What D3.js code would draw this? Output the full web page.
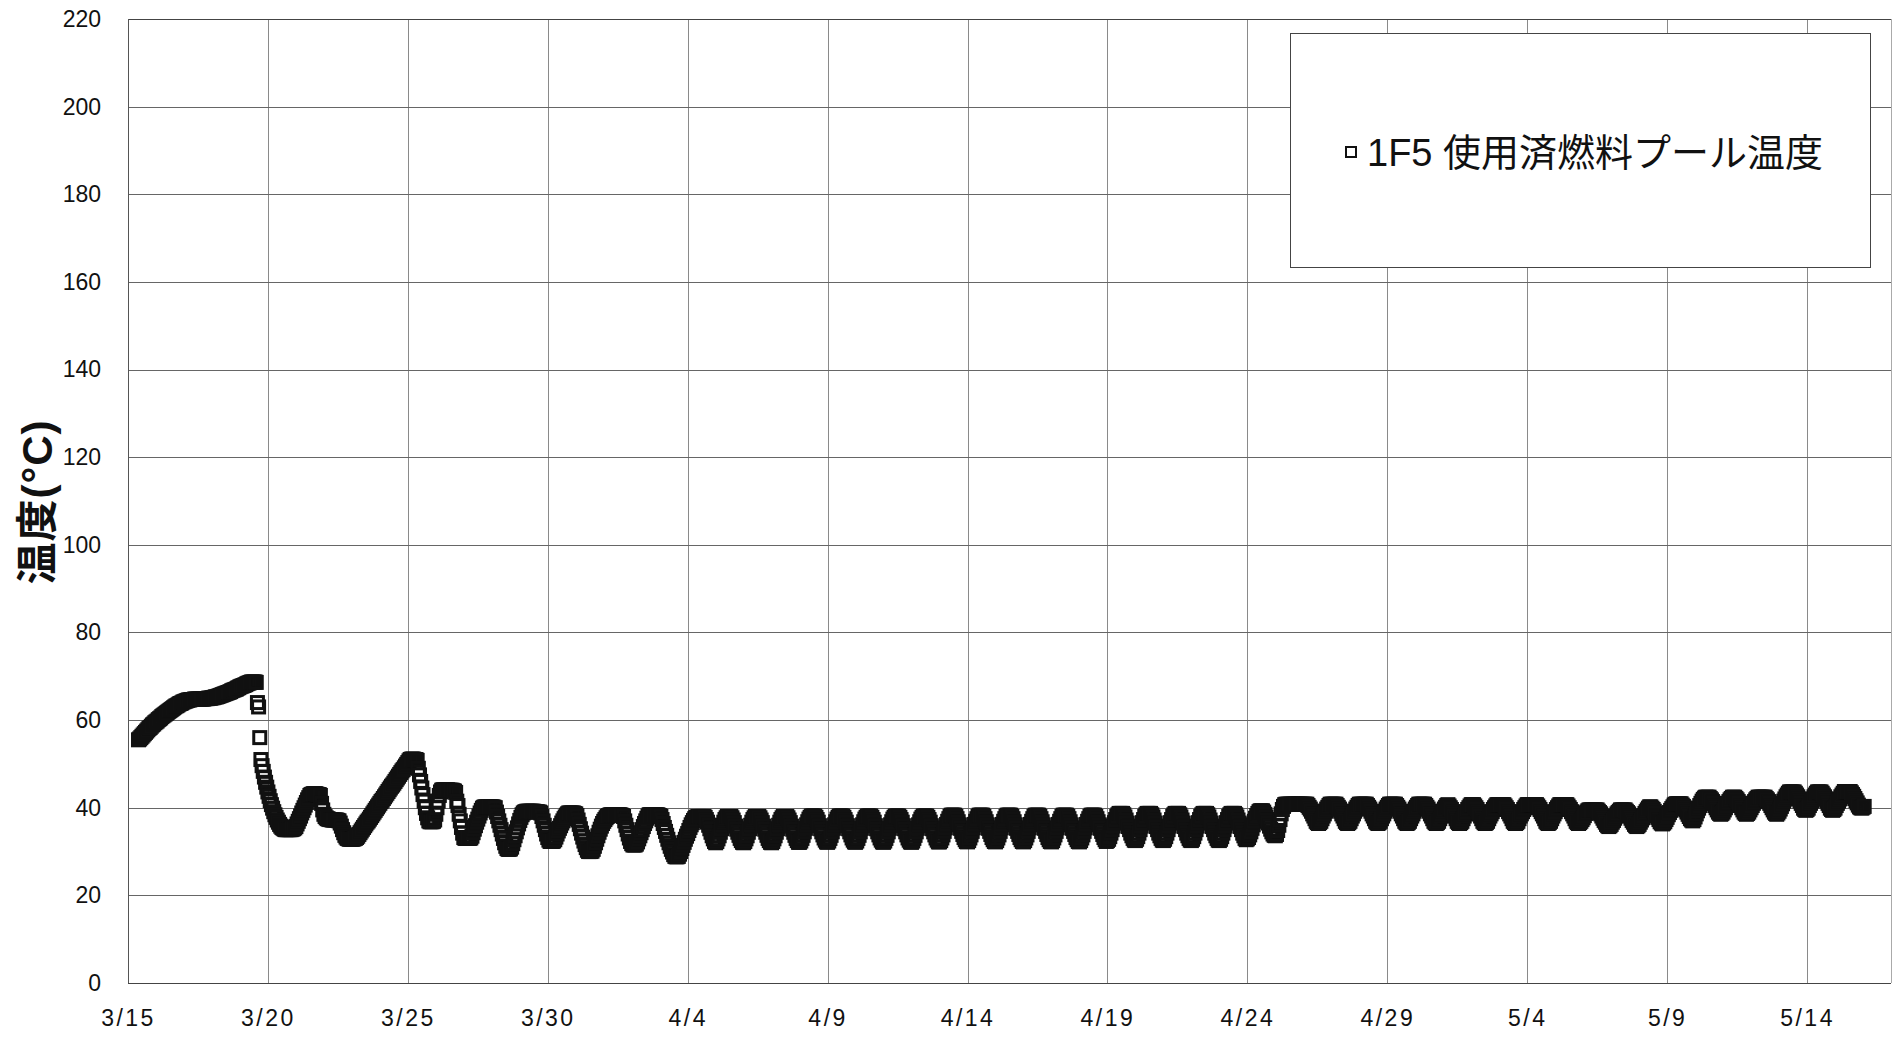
<!DOCTYPE html>
<html><head><meta charset="utf-8">
<script src="https://cdn.jsdelivr.net/npm/d3@7"></script>
<style>
html,body{margin:0;padding:0;background:#fff;}
svg{display:block;}
text{font-family:"Liberation Sans","Noto Sans CJK JP",sans-serif;fill:#111;}
</style></head><body>
<svg id="chart" width="1903" height="1037"></svg>
<script>
// ---------------- data ----------------
const seriesName = "1F5 使用済燃料プール温度";
const yAxisTitle = "温度(°C)";
const yTicks = [0, 20, 40, 60, 80, 100, 120, 140, 160, 180, 200, 220];
const xTickDates = ["2011-03-15","2011-03-20","2011-03-25","2011-03-30","2011-04-04","2011-04-09",
  "2011-04-14","2011-04-19","2011-04-24","2011-04-29","2011-05-04","2011-05-09","2011-05-14"];
const xTickLabels = ["3/15","3/20","3/25","3/30","4/4","4/9","4/14","4/19","4/24","4/29","5/4","5/9","5/14"];
const xDomain = ["2011-03-15T00:00Z", "2011-05-17T00:00Z"];
const yDomain = [0, 220];
const firstSample = "2011-03-15T09:00Z";   // hourly readings from here
const sampleHours = 1;
const temps = [
  // 3/15 (09h-23h)
  55.5,55.7,56.0,56.3,56.6,56.9,57.2,57.5,57.8,58.1,58.3,58.6,58.9,59.1,59.4,
  // 3/16
  59.6,59.8,60.1,60.3,60.5,60.8,61.0,61.2,61.4,61.6,61.8,62.0,62.2,62.4,62.6,62.8,63.0,63.2,63.3,63.5,63.7,63.8,63.9,64.1,
  // 3/17
  64.2,64.3,64.4,64.5,64.6,64.6,64.7,64.7,64.7,64.8,64.8,64.8,64.8,64.8,64.8,64.8,64.8,64.8,64.9,64.9,64.9,65.0,65.0,65.0,
  // 3/18
  65.1,65.1,65.2,65.3,65.3,65.4,65.5,65.6,65.7,65.8,65.9,66.0,66.1,66.2,66.3,66.4,66.5,66.7,66.8,66.9,67.0,67.1,67.3,67.4,
  // 3/19
  67.6,67.7,67.8,67.9,68.0,68.1,68.3,68.4,68.5,68.6,68.7,68.7,68.7,68.7,68.6,64.0,63.0,56.0,51.0,49.6,48.3,47.0,45.8,44.7,
  // 3/20
  43.6,42.6,41.6,40.7,39.9,39.1,38.4,37.8,37.2,36.7,36.2,35.8,35.5,35.3,35.1,35.0,35.0,35.0,35.0,35.0,35.0,35.1,35.2,35.4,
  // 3/21
  35.7,36.3,36.9,37.5,38.1,38.8,39.4,40.0,40.6,41.2,41.8,42.3,42.8,43.0,43.1,43.2,43.2,43.2,43.1,43.0,43.0,42.8,41.0,39.5,
  // 3/22
  38.5,38.0,37.7,37.5,37.4,37.3,37.3,37.2,37.2,37.2,37.2,37.2,37.1,37.0,36.5,35.8,35.0,34.3,33.7,33.3,33.0,32.9,32.8,32.8,
  // 3/23
  32.8,32.8,32.9,33.0,33.2,33.5,33.9,34.3,34.7,35.1,35.5,35.9,36.3,36.7,37.0,37.4,37.8,38.2,38.6,39.0,39.4,39.8,40.2,40.6,
  // 3/24
  41.0,41.4,41.7,42.1,42.5,42.9,43.3,43.7,44.1,44.5,44.9,45.2,45.6,46.0,46.4,46.8,47.2,47.6,48.0,48.4,48.7,49.1,49.5,49.9,
  // 3/25
  50.3,50.7,51.0,51.1,51.1,51.1,51.0,51.0,50.8,49.0,47.5,46.0,44.5,43.0,41.5,40.0,38.7,37.7,37.0,36.8,36.8,36.8,36.9,37.2,
  // 3/26
  38.5,40.0,41.5,42.8,43.6,44.0,44.1,44.1,44.1,44.1,44.1,44.0,44.0,44.0,44.0,43.9,43.8,43.5,41.5,40.5,38.5,37.0,35.5,34.2,
  // 3/27
  33.2,33.0,33.0,33.0,33.0,33.0,33.1,33.5,34.3,35.1,35.9,36.7,37.4,38.1,38.8,39.4,39.9,40.1,40.2,40.2,40.2,40.2,40.2,40.2,
  // 3/28
  40.2,40.2,40.1,40.0,39.0,38.0,37.0,36.0,35.0,34.0,33.0,32.0,31.2,30.7,30.5,30.5,30.6,31.0,31.8,32.7,33.6,34.5,35.4,36.3,
  // 3/29
  37.1,37.8,38.4,38.8,39.0,39.1,39.2,39.2,39.2,39.2,39.2,39.2,39.2,39.1,39.1,39.1,39.0,39.0,38.8,38.0,37.0,36.0,35.0,34.0,
  // 3/30
  33.2,32.6,32.3,32.3,32.3,32.4,32.7,33.3,34.0,34.7,35.3,35.9,36.5,37.0,37.5,37.9,38.3,38.6,38.8,38.8,38.8,38.8,38.8,38.7,
  // 3/31
  38.6,38.2,37.2,36.2,35.2,34.2,33.3,32.4,31.6,30.9,30.3,30.0,30.0,30.0,30.1,30.5,31.2,32.0,32.8,33.6,34.4,35.1,35.8,36.4,
  // 4/1
  36.9,37.3,37.7,38.0,38.2,38.3,38.4,38.4,38.4,38.4,38.4,38.4,38.4,38.4,38.4,38.3,38.2,38.0,37.0,36.0,35.0,34.0,33.1,32.3,
  // 4/2
  31.8,31.5,31.5,31.5,31.7,32.2,32.9,33.6,34.3,35.0,35.7,36.4,37.0,37.6,38.1,38.4,38.4,38.4,38.4,38.4,38.4,38.4,38.4,38.3,
  // 4/3
  38.2,38.0,37.3,36.4,35.5,34.6,33.7,32.8,32.0,31.2,30.5,29.9,29.3,28.9,28.8,28.8,28.9,29.4,30.0,30.7,31.4,32.1,32.8,33.5,
  // 4/4
  34.1,34.8,35.5,36.1,36.6,37.1,37.5,37.8,37.9,38.0,38.0,38.0,38.0,38.0,38.0,37.8,37.3,36.7,36.0,35.2,34.4,33.6,32.9,32.3,
  // 4/5
  32.0,32.3,32.9,33.6,34.4,35.2,36.0,36.7,37.3,37.7,38.0,38.0,38.0,38.0,37.7,37.2,36.6,35.8,35.1,34.4,33.7,33.0,32.5,32.1,
  // 4/6
  32.0,32.3,32.9,33.6,34.4,35.2,36.0,36.7,37.3,37.7,38.0,38.0,38.0,38.0,37.7,37.2,36.6,35.8,35.1,34.4,33.7,33.0,32.5,32.1,
  // 4/7
  32.0,32.3,32.9,33.6,34.4,35.2,36.0,36.7,37.3,37.7,38.0,38.0,38.0,38.0,37.7,37.2,36.6,35.8,35.1,34.4,33.7,33.0,32.5,32.1,
  // 4/8
  32.1,32.4,33.0,33.7,34.5,35.3,36.1,36.8,37.4,37.8,38.1,38.1,38.1,38.1,37.8,37.3,36.7,35.9,35.2,34.5,33.8,33.1,32.6,32.2,
  // 4/9
  32.1,32.4,33.0,33.7,34.5,35.3,36.1,36.8,37.4,37.8,38.1,38.1,38.1,38.1,37.8,37.3,36.7,35.9,35.2,34.5,33.8,33.1,32.6,32.2,
  // 4/10
  32.1,32.4,33.0,33.7,34.5,35.3,36.1,36.8,37.4,37.8,38.1,38.1,38.1,38.1,37.8,37.3,36.7,35.9,35.2,34.5,33.8,33.1,32.6,32.2,
  // 4/11
  32.1,32.4,33.0,33.7,34.5,35.3,36.1,36.8,37.4,37.8,38.1,38.1,38.1,38.1,37.8,37.3,36.7,35.9,35.2,34.5,33.8,33.1,32.6,32.2,
  // 4/12
  32.1,32.4,33.0,33.7,34.5,35.3,36.1,36.8,37.4,37.8,38.1,38.1,38.1,38.1,37.8,37.3,36.7,35.9,35.2,34.5,33.8,33.1,32.6,32.2,
  // 4/13
  32.2,32.5,33.1,33.8,34.6,35.4,36.2,36.9,37.5,38.0,38.3,38.3,38.3,38.3,38.0,37.5,36.8,36.1,35.3,34.6,33.9,33.2,32.7,32.3,
  // 4/14
  32.2,32.5,33.1,33.8,34.6,35.4,36.2,36.9,37.5,38.0,38.3,38.3,38.3,38.3,38.0,37.5,36.8,36.1,35.3,34.6,33.9,33.2,32.7,32.3,
  // 4/15
  32.2,32.5,33.1,33.8,34.6,35.4,36.2,36.9,37.5,38.0,38.3,38.3,38.3,38.3,38.0,37.5,36.8,36.1,35.3,34.6,33.9,33.2,32.7,32.3,
  // 4/16
  32.2,32.5,33.1,33.8,34.6,35.4,36.2,36.9,37.5,38.0,38.3,38.3,38.3,38.3,38.0,37.5,36.8,36.1,35.3,34.6,33.9,33.2,32.7,32.3,
  // 4/17
  32.2,32.5,33.1,33.8,34.6,35.4,36.2,36.9,37.5,38.0,38.3,38.3,38.3,38.3,38.0,37.5,36.8,36.1,35.3,34.6,33.9,33.2,32.7,32.3,
  // 4/18
  32.2,32.5,33.1,33.8,34.6,35.4,36.2,36.9,37.5,38.0,38.3,38.3,38.3,38.3,38.0,37.5,36.8,36.1,35.3,34.6,33.9,33.2,32.7,32.3,
  // 4/19
  32.5,32.8,33.4,34.2,35.0,35.8,36.6,37.3,38.0,38.4,38.7,38.7,38.7,38.7,38.4,37.9,37.2,36.5,35.7,35.0,34.2,33.6,33.0,32.6,
  // 4/20
  32.5,32.8,33.4,34.2,35.0,35.8,36.6,37.3,38.0,38.4,38.7,38.7,38.7,38.7,38.4,37.9,37.2,36.5,35.7,35.0,34.2,33.6,33.0,32.6,
  // 4/21
  32.5,32.8,33.4,34.2,35.0,35.8,36.6,37.3,38.0,38.4,38.7,38.7,38.7,38.7,38.4,37.9,37.2,36.5,35.7,35.0,34.2,33.6,33.0,32.6,
  // 4/22
  32.5,32.8,33.4,34.2,35.0,35.8,36.6,37.3,38.0,38.4,38.7,38.7,38.7,38.7,38.4,37.9,37.2,36.5,35.7,35.0,34.2,33.6,33.0,32.6,
  // 4/23
  32.5,32.8,33.4,34.2,35.0,35.8,36.6,37.3,38.0,38.4,38.7,38.7,38.7,38.7,38.4,37.9,37.2,36.5,35.7,35.0,34.2,33.6,33.0,32.7,
  // 4/24
  32.9,33.2,33.8,34.5,35.3,36.1,36.9,37.6,38.2,38.7,39.1,39.3,39.3,39.3,39.0,38.5,37.9,37.2,36.5,35.8,35.1,34.5,34.0,33.7,
  // 4/25
  33.6,33.9,34.8,36.0,37.3,38.6,39.6,40.3,40.7,40.8,40.8,40.8,40.8,40.8,40.8,40.8,40.8,40.8,40.8,40.8,40.8,40.8,40.8,40.8,
  // 4/26
  40.8,40.8,40.8,40.8,40.5,40.1,39.7,39.2,38.6,38.1,37.5,36.9,36.6,36.4,36.6,36.9,37.5,38.1,38.6,39.2,39.7,40.1,40.5,40.8,
  // 4/27
  40.8,40.8,40.8,40.8,40.8,40.5,40.1,39.7,39.2,38.6,38.1,37.5,36.9,36.6,36.4,36.6,36.9,37.5,38.1,38.6,39.2,39.7,40.1,40.5,
  // 4/28
  40.8,40.8,40.8,40.8,40.8,40.8,40.8,40.5,40.1,39.7,39.2,38.6,38.1,37.5,36.9,36.6,36.4,36.6,36.9,37.5,38.1,38.6,39.2,39.7,
  // 4/29
  40.1,40.5,40.8,40.8,40.8,40.8,40.8,40.8,40.5,40.1,39.7,39.2,38.6,38.1,37.5,36.9,36.6,36.4,36.6,36.9,37.5,38.1,38.6,39.2,
  // 4/30
  39.7,40.1,40.5,40.8,40.8,40.8,40.8,40.8,40.8,40.5,40.1,39.7,39.2,38.6,38.1,37.5,36.9,36.6,36.4,36.6,36.9,37.5,38.1,38.6,
  // 5/1
  39.2,39.7,40.1,40.5,40.7,40.4,40.0,39.6,39.1,38.6,38.1,37.5,36.9,36.6,36.4,36.6,36.9,37.5,38.1,38.6,39.1,39.6,40.0,40.4,
  // 5/2
  40.7,40.7,40.7,40.4,40.0,39.6,39.1,38.6,38.1,37.5,36.9,36.6,36.4,36.6,36.9,37.5,38.1,38.6,39.1,39.6,40.0,40.4,40.7,40.7,
  // 5/3
  40.7,40.7,40.7,40.7,40.7,40.4,40.0,39.6,39.1,38.6,38.1,37.5,36.9,36.6,36.4,36.6,36.9,37.5,38.1,38.6,39.1,39.6,40.0,40.4,
  // 5/4
  40.7,40.7,40.7,40.7,40.7,40.7,40.7,40.7,40.7,40.4,40.0,39.6,39.1,38.6,38.1,37.5,36.9,36.6,36.4,36.6,36.9,37.5,38.1,38.6,
  // 5/5
  39.1,39.6,40.0,40.4,40.7,40.7,40.7,40.7,40.7,40.7,40.7,40.4,40.0,39.6,39.1,38.6,38.1,37.5,36.9,36.6,36.4,36.6,36.9,37.3,
  // 5/6
  37.7,38.2,38.7,39.0,39.3,39.5,39.5,39.5,39.5,39.5,39.5,39.5,39.5,39.2,38.9,38.6,38.1,37.6,37.1,36.7,36.2,35.9,35.7,35.9,
  // 5/7
  36.2,36.7,37.1,37.6,38.1,38.6,38.9,39.2,39.5,39.5,39.5,39.5,39.5,39.2,38.9,38.6,38.1,37.6,37.1,36.7,36.2,35.9,35.7,35.9,
  // 5/8
  36.2,36.7,37.2,37.7,38.2,38.7,39.1,39.5,39.9,40.2,40.2,39.9,39.6,39.2,38.7,38.2,37.8,37.3,36.8,36.5,36.3,36.5,36.8,37.3,
  // 5/9
  37.8,38.4,38.9,39.4,39.8,40.2,40.6,40.8,40.9,40.9,40.9,40.9,40.9,40.6,40.3,39.9,39.5,39.0,38.5,38.0,37.5,37.2,37.0,37.3,
  // 5/10
  37.9,38.6,39.3,39.9,40.5,41.0,41.5,41.9,42.2,42.4,42.4,42.4,42.4,42.1,41.8,41.4,41.0,40.5,40.0,39.5,39.0,38.7,38.5,38.7,
  // 5/11
  39.0,39.5,40.0,40.5,41.0,41.4,41.8,42.1,42.4,42.4,42.4,42.1,41.8,41.4,41.0,40.5,40.0,39.5,39.0,38.7,38.5,38.7,39.0,39.5,
  // 5/12
  40.0,40.5,41.0,41.4,41.8,42.1,42.4,42.4,42.4,42.4,42.4,42.4,42.4,42.1,41.8,41.4,41.0,40.5,40.0,39.5,39.0,38.7,38.5,38.8,
  // 5/13
  39.2,39.7,40.3,40.9,41.5,42.0,42.5,42.9,43.3,43.6,43.6,43.6,43.6,43.6,43.3,42.9,42.5,42.0,41.5,41.0,40.5,39.9,39.6,39.4,
  // 5/14
  39.6,39.9,40.5,41.0,41.5,42.0,42.5,42.9,43.3,43.6,43.6,43.6,43.6,43.3,42.9,42.5,42.0,41.5,41.0,40.5,39.9,39.6,39.4,39.6,
  // 5/15
  39.9,40.5,41.0,41.5,42.0,42.5,42.9,43.3,43.7,43.7,43.7,43.7,43.7,43.7,43.4,43.0,42.6,42.1,41.6,41.1,40.6,40.2,40.0,39.9,
  // 5/16 (00h-01h)
  40.1,40.3
];

// ---------------- layout ----------------
const W = 1903, H = 1037;
const plot = {left: 128, top: 19, right: 1891, bottom: 983};
const svg = d3.select("#chart");
svg.append("rect").attr("width", W).attr("height", H).attr("fill", "#fff");

const x = d3.scaleUtc().domain(xDomain.map(d => new Date(d))).range([plot.left, plot.right]);
const y = d3.scaleLinear().domain(yDomain).range([plot.bottom, plot.top]);

const t0 = new Date(firstSample).getTime();
const points = temps.map((v, i) => ({t: new Date(t0 + i * sampleHours * 3600e3), v}));
const tickDates = xTickDates.map(d => new Date(d + "T00:00Z"));

// gridlines
svg.append("g").selectAll("line").data(tickDates).join("line")
  .attr("x1", d => Math.round(x(d)) + 0.5).attr("x2", d => Math.round(x(d)) + 0.5)
  .attr("y1", plot.top).attr("y2", plot.bottom)
  .attr("stroke", "#8a8a8a").attr("stroke-width", 1);
svg.append("g").selectAll("line").data(yTicks).join("line")
  .attr("x1", plot.left).attr("x2", plot.right)
  .attr("y1", d => Math.round(y(d)) + 0.5).attr("y2", d => Math.round(y(d)) + 0.5)
  .attr("stroke", d => d === 220 ? "#444" : "#666").attr("stroke-width", 1);
// frame
svg.append("line").attr("x1", plot.left + 0.5).attr("x2", plot.left + 0.5)
  .attr("y1", plot.top).attr("y2", plot.bottom).attr("stroke", "#555");
svg.append("line").attr("x1", plot.right + 0.5).attr("x2", plot.right + 0.5)
  .attr("y1", plot.top).attr("y2", plot.bottom).attr("stroke", "#aaa");
svg.append("line").attr("x1", plot.left).attr("x2", plot.right)
  .attr("y1", plot.bottom + 0.5).attr("y2", plot.bottom + 0.5).attr("stroke", "#444");

// axes (labels only)
const yAxis = d3.axisLeft(y).tickValues(yTicks).tickSize(0).tickPadding(27).tickFormat(d3.format("d"));
const gy = svg.append("g").attr("transform", `translate(${plot.left},0)`).call(yAxis);
gy.select(".domain").remove();
gy.selectAll("text").style("font-size", "23px").style("font-family", '"Liberation Sans", sans-serif');

const xAxis = d3.axisBottom(x).tickValues(tickDates).tickSize(0).tickPadding(27)
  .tickFormat((d, i) => xTickLabels[i]);
const gx = svg.append("g").attr("transform", `translate(0,${plot.bottom})`).call(xAxis);
gx.select(".domain").remove();
gx.selectAll("text").style("font-size", "23px").style("letter-spacing", "2.5px")
  .style("font-family", '"Liberation Sans", sans-serif');

// y title
svg.append("text").attr("transform", `translate(37,${(plot.top + plot.bottom) / 2 + 1}) rotate(-90)`)
  .attr("text-anchor", "middle").attr("dominant-baseline", "central")
  .style("font-size", "42px").style("letter-spacing", "1px").style("font-weight", "bold").text(yAxisTitle);

// series markers (hollow squares)
const ms = 12;
svg.append("g").selectAll("rect").data(points).join("rect")
  .attr("x", d => x(d.t) - ms / 2).attr("y", d => y(d.v) - ms / 2)
  .attr("width", ms).attr("height", ms)
  .attr("fill", "none").attr("stroke", "#111").attr("stroke-width", 3);

// legend
const lg = svg.append("g");
lg.append("rect").attr("x", 1290.5).attr("y", 33.5).attr("width", 580).attr("height", 234)
  .attr("fill", "#fff").attr("stroke", "#444").attr("stroke-width", 1);
lg.append("rect").attr("x", 1346).attr("y", 147).attr("width", 10).attr("height", 10)
  .attr("fill", "none").attr("stroke", "#111").attr("stroke-width", 2);
lg.append("text").attr("x", 1367).attr("y", 153).attr("dominant-baseline", "central")
  .style("font-size", "38px").text(seriesName);
</script>
</body></html>
